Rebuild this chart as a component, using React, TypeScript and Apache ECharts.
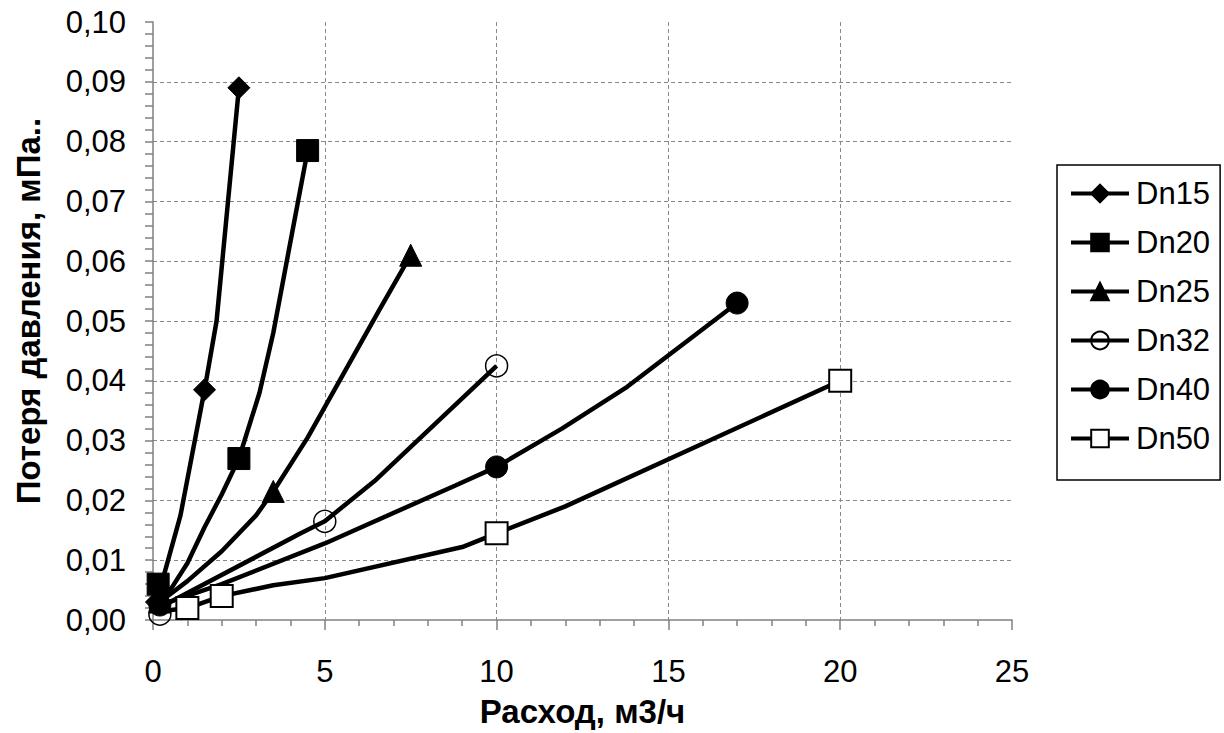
import React, { useEffect, useRef } from "react";
import * as echarts from "echarts";

const xTicks = [0, 5, 10, 15, 20, 25];
const seriesNames = ["Dn15", "Dn20", "Dn25", "Dn32", "Dn40", "Dn50"];

const dn15Q = [0.1, 0.8, 1.5, 1.85, 2.5];
const dn15P = [0.003, 0.0175, 0.0385, 0.05, 0.089];
const dn15Marked = [0, 2, 4];

const dn20Q = [0.15, 0.5, 1, 1.5, 2, 2.5, 3.1, 3.5, 4.5];
const dn20P = [0.006, 0.005, 0.0095, 0.0155, 0.021, 0.027, 0.038, 0.048, 0.0785];
const dn20Marked = [0, 5, 8];

const dn25Q = [0.2, 1, 2, 3, 3.5, 4.5, 6.6, 7.5];
const dn25P = [0.003, 0.0065, 0.0115, 0.0175, 0.0215, 0.0305, 0.052, 0.061];
const dn25Marked = [0, 4, 7];

const dn32Q = [0.2, 0.5, 4.3, 5, 6.5, 10];
const dn32P = [0.001, 0.003, 0.0145, 0.0165, 0.0235, 0.0425];
const dn32Marked = [0, 3, 5];

const dn40Q = [0.2, 2, 5, 8.8, 10, 11.9, 13.8, 17];
const dn40P = [0.0025, 0.006, 0.0128, 0.0225, 0.0256, 0.032, 0.039, 0.053];
const dn40Marked = [0, 4, 7];

const dn50Q = [0.3, 1, 2, 3.5, 5, 9, 10, 12, 20];
const dn50P = [0.0015, 0.002, 0.004, 0.0058, 0.007, 0.0122, 0.0145, 0.019, 0.04];
const dn50Marked = [1, 2, 6, 8];

const FONT = "'Liberation Sans', Arial, sans-serif";

function buildData(q: number[], p: number[], marked: number[]) {
  return q.map((x, i) =>
    marked.includes(i) ? { value: [x, p[i]] } : { value: [x, p[i]], symbol: "none" }
  );
}

export default function App() {
  const ref = useRef<HTMLDivElement>(null);
  useEffect(() => {
    if (!ref.current) return;
    const chart = echarts.init(ref.current, null, { renderer: "svg" });
    const black = "#000";
    const styles = [
      { symbol: "diamond", itemStyle: { color: black, borderColor: black, borderWidth: 1 } },
      { symbol: "rect", itemStyle: { color: black, borderColor: black, borderWidth: 1 } },
      { symbol: "triangle", itemStyle: { color: black, borderColor: black, borderWidth: 1 } },
      { symbol: "circle", itemStyle: { color: "rgba(255,255,255,0)", borderColor: black, borderWidth: 1.5 } },
      { symbol: "circle", itemStyle: { color: black, borderColor: black, borderWidth: 1 } },
      { symbol: "rect", itemStyle: { color: "#fff", borderColor: black, borderWidth: 2 } },
    ];
    const datasets = [
      buildData(dn15Q, dn15P, dn15Marked),
      buildData(dn20Q, dn20P, dn20Marked),
      buildData(dn25Q, dn25P, dn25Marked),
      buildData(dn32Q, dn32P, dn32Marked),
      buildData(dn40Q, dn40P, dn40Marked),
      buildData(dn50Q, dn50P, dn50Marked),
    ];
    const series = seriesNames.map((name, i) => ({
      name,
      type: "line",
      data: datasets[i],
      symbol: styles[i].symbol,
      symbolSize: 22,
      showAllSymbol: true,
      lineStyle: { color: black, width: 4.5 },
      itemStyle: styles[i].itemStyle,
      emphasis: { disabled: true },
      z: 2,
    }));
    chart.setOption({
      animation: false,
      backgroundColor: "#fff",
      grid: { left: 153, right: 212, top: 22, bottom: 111, containLabel: false },
      xAxis: {
        type: "value",
        min: xTicks[0],
        max: xTicks[xTicks.length - 1],
        interval: 5,
        name: "Расход, м3/ч",
        nameLocation: "middle",
        nameGap: 75,
        nameTextStyle: { fontFamily: FONT, fontSize: 33, fontWeight: "bold", color: "#000" },
        axisLine: { show: true, lineStyle: { color: "#808080", width: 1.5 } },
        axisTick: { show: true, length: 10, lineStyle: { color: "#808080", width: 1.5 } },
        minorTick: { show: true, splitNumber: 5, length: 6, lineStyle: { color: "#808080", width: 1.5 } },
        axisLabel: { fontFamily: FONT, fontSize: 31, color: "#000", margin: 36 },
        splitLine: {
          show: true,
          showMinLine: false,
          showMaxLine: false,
          lineStyle: { color: "#7f8a94", type: [4, 3], width: 1 },
        },
      },
      yAxis: {
        type: "value",
        min: 0,
        max: 0.1,
        interval: 0.01,
        name: "Потеря давления, мПа..",
        nameLocation: "middle",
        nameRotate: 90,
        nameGap: 108,
        nameTextStyle: { fontFamily: FONT, fontSize: 33, fontWeight: "bold", color: "#000", padding: [0, 0, 0, 20] },
        axisLine: { show: true, lineStyle: { color: "#808080", width: 1.5 } },
        axisTick: { show: true, length: 8, lineStyle: { color: "#808080", width: 1.5 } },
        minorTick: { show: true, splitNumber: 5, length: 8, lineStyle: { color: "#808080", width: 1.5 } },
        axisLabel: {
          fontFamily: FONT,
          fontSize: 31,
          color: "#000",
          margin: 27,
          formatter: (v: number) => v.toFixed(2).replace(".", ","),
        },
        splitLine: {
          show: true,
          showMinLine: false,
          showMaxLine: false,
          lineStyle: { color: "#7f8a94", type: [4, 3], width: 1 },
        },
      },
      legend: {
        orient: "vertical",
        left: 1057,
        top: 165,
        data: seriesNames,
        itemWidth: 58,
        itemHeight: 22,
        itemGap: 18,
        padding: [13, 10, 26, 12],
        borderColor: "#000",
        borderWidth: 1.5,
        selectedMode: false,
        lineStyle: { width: 4, color: "#000" },
        textStyle: { fontFamily: FONT, fontSize: 31, color: "#000", padding: [0, 0, 0, 2] },
      },
      series,
    });
    return () => chart.dispose();
  }, []);
  return (
    <div
      ref={ref}
      style={{ position: "fixed", left: 0, top: 0, width: 1224, height: 733, background: "#fff" }}
    />
  );
}
